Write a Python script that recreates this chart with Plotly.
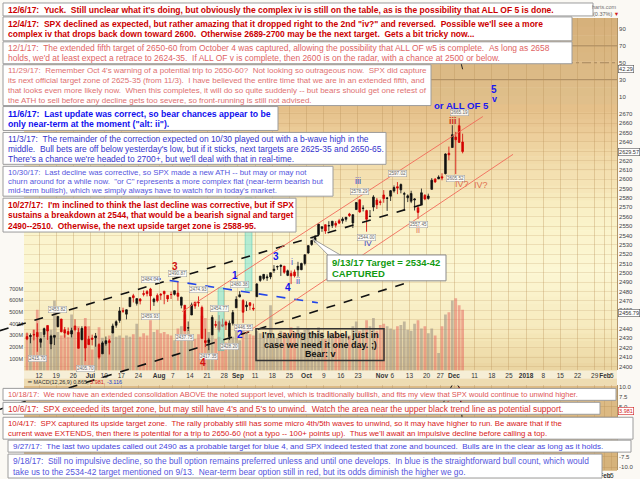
import plotly.graph_objects as go
import pandas as pd

W, H = 640, 479
FONT = "Liberation Sans, Arial, sans-serif"

# ---------------- data (SPX, Jun 6 - Dec 5 2017, read/estimated) ----------------
opens = [2431.9, 2432.0, 2434.3, 2436.4, 2425.9, 2434.1, 2443.8, 2424.1, 2431.2, 2442.5, 2450.7, 2439.3, 2437.4, 2434.7, 2443.3, 2436.3, 2428.7, 2442.4, 2429.2,
         2430.4, 2430.7, 2423.4, 2413.5, 2424.5, 2427.4, 2435.8, 2444.0, 2449.2, 2459.5, 2455.9, 2463.9, 2475.6, 2467.4, 2472.0, 2477.9, 2480.0, 2482.8, 2469.1, 2475.9,
         2477.1, 2480.4, 2476.0, 2476.9, 2477.1, 2478.4, 2465.4, 2465.4, 2441.0, 2455.0, 2468.7, 2468.6, 2463.0, 2427.6, 2425.5, 2433.8, 2444.9, 2447.9, 2444.7, 2447.4, 2431.9, 2446.1, 2462.7,
         2474.4, 2470.4, 2463.8, 2468.1, 2462.3, 2474.5, 2491.9, 2493.9, 2494.6, 2495.7, 2502.5, 2506.3, 2506.8, 2507.2, 2497.3, 2499.4, 2501.0, 2503.3, 2503.4, 2510.1,
         2521.2, 2530.3, 2533.5, 2540.9, 2547.4, 2551.4, 2550.0, 2550.6, 2552.9, 2555.7, 2555.6, 2557.2, 2562.9, 2553.4, 2567.6, 2578.1, 2568.7, 2566.5, 2560.1, 2570.3, 2577.8, 2576.0,
         2583.2, 2579.5, 2581.9, 2587.5, 2592.1, 2588.7, 2584.0, 2580.2, 2576.5, 2577.8, 2569.5, 2573.0, 2582.9, 2579.5, 2589.2, 2600.3, 2600.4, 2602.7, 2606.0, 2627.8, 2633.9,
         2645.1, 2657.2, 2639.8]
highs = [2436.2, 2435.3, 2439.3, 2446.2, 2430.4, 2441.5, 2443.8, 2433.9, 2433.2, 2453.8, 2450.7, 2442.2, 2441.6, 2441.4, 2450.4, 2441.0, 2443.0, 2442.7, 2432.7,
         2434.0, 2435.8, 2424.9, 2426.9, 2432.0, 2429.3, 2445.8, 2449.3, 2463.5, 2462.8, 2460.9, 2473.8, 2477.6, 2472.5, 2473.1, 2481.2, 2481.7, 2484.0, 2473.5, 2478.0,
         2478.5, 2480.4, 2476.0, 2480.0, 2481.0, 2490.9, 2474.4, 2465.4, 2448.1, 2468.2, 2468.9, 2474.9, 2465.0, 2440.3, 2430.6, 2454.8, 2448.9, 2454.8, 2451.0, 2449.1, 2449.2, 2460.3, 2475.0,
         2480.4, 2472.0, 2469.6, 2468.6, 2467.1, 2489.0, 2496.8, 2498.4, 2498.4, 2500.2, 2508.3, 2507.8, 2508.9, 2507.2, 2503.5, 2502.5, 2503.5, 2511.8, 2510.8, 2519.4,
         2529.2, 2535.1, 2540.5, 2552.5, 2549.4, 2551.8, 2555.2, 2555.2, 2555.3, 2557.7, 2559.5, 2559.7, 2564.1, 2562.4, 2575.4, 2578.3, 2572.2, 2567.4, 2567.1, 2583.0, 2580.0, 2578.3,
         2588.4, 2581.1, 2588.4, 2593.4, 2597.0, 2595.5, 2586.5, 2583.8, 2587.7, 2579.7, 2572.8, 2590.1, 2584.0, 2584.6, 2601.2, 2600.9, 2604.2, 2606.4, 2627.7, 2634.9, 2657.7,
         2650.6, 2665.2, 2648.7]
lows = [2428.1, 2424.8, 2427.9, 2415.7, 2420.0, 2431.3, 2428.3, 2418.5, 2422.9, 2441.8, 2436.6, 2430.7, 2433.3, 2431.1, 2437.0, 2419.4, 2428.0, 2405.7, 2422.9,
        2422.5, 2421.1, 2407.7, 2413.5, 2422.3, 2412.8, 2435.6, 2441.4, 2446.7, 2457.2, 2450.3, 2463.9, 2468.4, 2465.1, 2466.3, 2474.9, 2474.9, 2459.9, 2464.7, 2468.5,
        2471.1, 2466.5, 2468.9, 2472.1, 2475.9, 2470.3, 2462.1, 2437.8, 2437.9, 2455.0, 2461.6, 2463.9, 2430.0, 2420.7, 2417.4, 2433.7, 2441.4, 2436.4, 2441.9, 2439.0, 2428.2, 2443.8, 2462.7,
        2473.9, 2446.6, 2459.2, 2460.3, 2459.4, 2474.5, 2490.4, 2492.1, 2491.4, 2493.2, 2499.9, 2503.2, 2496.7, 2499.0, 2496.5, 2488.0, 2495.1, 2495.9, 2502.9, 2508.0,
        2520.4, 2528.9, 2531.8, 2540.0, 2543.8, 2541.6, 2544.9, 2548.0, 2548.3, 2552.1, 2552.6, 2554.7, 2559.7, 2547.9, 2567.6, 2564.3, 2565.6, 2544.0, 2559.8, 2565.9, 2568.2, 2572.2,
        2574.9, 2566.2, 2576.8, 2585.7, 2584.1, 2585.0, 2566.3, 2575.6, 2574.5, 2566.6, 2557.5, 2573.0, 2577.6, 2578.2, 2589.2, 2596.2, 2600.4, 2598.9, 2605.2, 2620.3, 2633.9,
        2605.5, 2639.0, 2627.7]
closes = [2429.3, 2433.1, 2433.8, 2431.8, 2429.4, 2440.4, 2437.9, 2432.5, 2433.2, 2453.5, 2437.0, 2435.6, 2434.5, 2438.3, 2439.1, 2419.4, 2440.7, 2419.7, 2423.4,
          2429.0, 2432.5, 2409.8, 2425.2, 2427.4, 2425.5, 2443.3, 2447.8, 2459.3, 2459.1, 2460.6, 2473.8, 2473.5, 2472.5, 2469.9, 2477.1, 2477.8, 2475.4, 2472.1, 2470.3,
          2476.4, 2477.6, 2472.2, 2476.8, 2480.9, 2474.9, 2474.0, 2438.2, 2441.3, 2465.8, 2464.6, 2468.1, 2430.0, 2425.6, 2428.4, 2452.5, 2444.0, 2439.0, 2443.1, 2444.2, 2446.3, 2457.6, 2471.7,
          2476.6, 2457.9, 2465.5, 2465.1, 2461.4, 2488.1, 2496.5, 2498.4, 2495.6, 2500.2, 2503.9, 2506.7, 2508.2, 2500.6, 2502.2, 2496.7, 2496.8, 2507.0, 2510.1, 2519.4,
          2529.1, 2534.6, 2537.7, 2552.1, 2549.3, 2544.7, 2550.6, 2555.2, 2550.9, 2553.2, 2557.6, 2559.4, 2561.3, 2562.1, 2575.2, 2565.0, 2569.1, 2557.2, 2560.4, 2581.1, 2572.8, 2575.3,
          2579.4, 2579.9, 2587.8, 2591.1, 2590.6, 2594.4, 2584.6, 2582.3, 2584.8, 2578.9, 2564.6, 2585.6, 2578.9, 2582.1, 2599.0, 2597.1, 2602.4, 2601.4, 2627.0, 2626.1, 2647.6,
          2642.2, 2639.4, 2629.57]
volumes_m = [320, 300, 350, 520, 330, 300, 380, 350, 600, 330, 300, 310, 290, 480, 330, 380, 340, 450, 380,
             180, 300, 370, 280, 260, 300, 340, 290, 300, 280, 300, 290, 310, 400, 290, 320, 300, 430, 330, 350,
             320, 330, 310, 300, 260, 360, 380, 480, 350, 300, 270, 310, 470, 450, 330, 310, 270, 290, 260, 240, 320, 290, 380,
             260, 390, 330, 310, 300, 340, 320, 300, 320, 560, 290, 280, 340, 330, 300, 370, 330, 380, 330, 350,
             360, 330, 320, 370, 330, 270, 320, 310, 330, 300, 300, 310, 300, 380, 420, 340, 360, 430, 380, 450, 340, 390,
             400, 380, 360, 350, 380, 390, 420, 350, 340, 400, 430, 360, 380, 320, 360, 300, 150, 380, 480, 500, 600,
             620, 560, 520]

rsi_dates = ["2017-12-01", "2017-12-04", "2017-12-05"]
rsi_vals = [61.0, 58.5, 42.29]
macd_dates = ["2017-11-27", "2017-11-28", "2017-11-29", "2017-11-30", "2017-12-01", "2017-12-04", "2017-12-05"]
macd_vals = [5.0, 7.2, 8.8, 10.4, 10.9, 9.8, 0.865]
signal_vals = [4.6, 5.4, 6.5, 7.8, 9.0, 9.7, 3.981]

# market holidays inside the data period (the chart's future area keeps every weekday)
holidays = ["2017-07-04", "2017-09-04", "2017-11-23"]
tick_dates = ["2017-06-12", "2017-06-19", "2017-06-26", "2017-07-03", "2017-07-10", "2017-07-17", "2017-07-24",
              "2017-08-01", "2017-08-07", "2017-08-14", "2017-08-21", "2017-08-28", "2017-09-01", "2017-09-11",
              "2017-09-18", "2017-09-25", "2017-10-02", "2017-10-09", "2017-10-16", "2017-10-23", "2017-11-01",
              "2017-11-06", "2017-11-13", "2017-11-20", "2017-11-27", "2017-12-01", "2017-12-11", "2017-12-18",
              "2017-12-25", "2018-01-01", "2018-01-08", "2018-01-15", "2018-01-22", "2018-01-29", "2018-02-01",
              "2018-02-05"]
tick_labels = ["12", "19", "26", "<b>Jul</b>", "10", "17", "24", "<b>Aug</b>", "7", "14", "21", "28", "<b>Sep</b>", "11",
               "18", "25", "<b>Oct</b>", "9", "16", "23", "<b>Nov</b>", "6", "13", "20", "27", "<b>Dec</b>", "11", "18",
               "25", "<b>2018</b>", "8", "15", "22", "29", "<b>Feb</b>", "5"]
price_ticks = list(range(2400, 2680, 10))
price_hidden = [2450, 2630]            # covered by the value markers in the reference
vol_ticks = [100, 200, 300, 400, 500, 600, 700]
rsi_ticks = [10, 30, 50, 70, 90]
macd_ticks = [-10, -7.5, -5, -2.5, 0, 2.5, 5, 7.5, 10]
macd_hidden = [-5, -2.5, 0, 2.5]       # covered by the note boxes in the reference

# labelled swing highs/lows: (date, value, vertical offset px)
swing_labels = [("2017-06-09", 2415.70, -7), ("2017-06-19", 2453.82, 7), ("2017-06-29", 2405.70, -7),
                ("2017-07-27", 2484.04, 8), ("2017-07-27", 2459.93, -6), ("2017-08-08", 2490.87, 8),
                ("2017-08-10", 2437.75, -6), ("2017-08-16", 2474.93, 7), ("2017-08-21", 2417.35, -6),
                ("2017-08-24", 2454.77, 7), ("2017-08-29", 2428.20, -6), ("2017-09-01", 2480.38, 7),
                ("2017-09-05", 2446.55, -5), ("2017-10-23", 2578.29, 8), ("2017-10-25", 2544.00, -6),
                ("2017-11-07", 2597.02, 9), ("2017-11-15", 2557.45, -5), ("2017-12-01", 2605.52, -4),
                ("2017-12-04", 2665.19, 6)]

# analyst trend lines in (trading-day index, price)
trend_lines = [(-11.4, 2438.3, 113.1, 2574.5, "#111111", 1.6, "dash"),
               (-11.4, 2354.3, 108.2, 2490.4, "#111111", 1.6, "dash"),
               (32.9, 2494.7, 81.3, 2468.1, "#2244e8", 1.6, "dash"),
               (41.7, 2458.5, 129.4, 2667.0, "#f26a5a", 0.9, "solid"),
               (60.1, 2435.1, 138.2, 2626.6, "#f26a5a", 0.9, "solid")]
cyan_bands = [(52.2, 53.9, 2417.0, 2484.0), (60.1, 62.1, 2481.0, 2580.0)]

# ---------------- calendar ----------------
cal = [d.strftime("%Y-%m-%d") for d in pd.bdate_range("2017-06-06", "2018-02-09")]
cal = [d for d in cal if d not in holidays]
origin = cal.index("2017-06-12")
day_pos = {d: i - origin for i, d in enumerate(cal)}
n = min(len(opens), len(highs), len(lows), len(closes), len(volumes_m))
xs = [i - origin + 0.5 for i in range(n)]          # centre of each trading session
tick_x = [day_pos[d] for d in tick_dates]           # session starts

# ---------------- geometry ----------------
X_L, X_R = 24, 617
X0, DX = 39, 3.43
xr = [(X_L - X0) / DX, (X_R - X0) / DX]
P_TOP, P_BOT, P2400, PK = 103, 370, 366, 0.94
pr = [2400 - (P_BOT - P2400) / PK, 2400 + (P2400 - P_TOP) / PK]
VK = 0.117
vr = [0, (P_BOT - P_TOP) / VK]
R_TOP, R_BOT = 16, 103
rr = [(103.5 - R_BOT) / 0.85, (103.5 - R_TOP) / 0.85]
M_TOP, M_BOT = 385, 470
mr = [10 - (M_BOT - 386) / 4.05, 10 + (386 - M_TOP) / 4.05]


def dom(top, bot):
    return [1 - bot / H, 1 - top / H]


def px(x):
    return x / W


def py(y):
    return 1 - y / H


def dx2p(i):
    return (X0 + i * DX) / W


def dy2p(p):
    return 1 - (P2400 - (p - 2400) * PK) / H


fig = go.Figure()

vol_colors = ["rgba(150,138,125,0.55)" if closes[i] >= opens[i] else "rgba(228,95,90,0.5)" for i in range(n)]
fig.add_trace(go.Bar(x=xs, y=volumes_m[:n], marker=dict(color=vol_colors, line=dict(width=0)), width=0.8,
                     xaxis="x", yaxis="y", hoverinfo="skip"))
fig.add_trace(go.Candlestick(x=xs, open=opens[:n], high=highs[:n], low=lows[:n], close=closes[:n],
                             xaxis="x", yaxis="y2", whiskerwidth=0,
                             increasing=dict(line=dict(color="#111111", width=0.8), fillcolor="#111111"),
                             decreasing=dict(line=dict(color="#d40000", width=0.8), fillcolor="#d40000")))
fig.add_trace(go.Scatter(x=[day_pos[d] + 0.5 for d in rsi_dates], y=rsi_vals, xaxis="x2", yaxis="y3",
                         mode="lines", line=dict(color="#222222", width=1)))
fig.add_trace(go.Scatter(x=[day_pos[d] + 0.5 for d in macd_dates], y=macd_vals, xaxis="x3", yaxis="y4",
                         mode="lines", line=dict(color="#111111", width=1)))
fig.add_trace(go.Scatter(x=[day_pos[d] + 0.5 for d in macd_dates], y=signal_vals, xaxis="x3", yaxis="y4",
                         mode="lines", line=dict(color="#d02020", width=1)))

grid = "rgba(185,145,90,0.35)"
xcommon = dict(range=xr, domain=[px(X_L), px(X_R)], tickvals=tick_x, tickangle=0,
               showgrid=True, gridcolor=grid, gridwidth=0.7, zeroline=False, showline=False, ticks="",
               fixedrange=True, tickfont=dict(family=FONT, size=6.5, color="#333333"))
# bottom (MACD) axis: only the labels beyond the last note box are visible in the reference
bottom_text = [t if (X0 + v * DX) > 603 else "" for t, v in zip(tick_labels, tick_x)]
fig.update_layout(
    width=W, height=H, margin=dict(l=0, r=0, t=0, b=0), showlegend=False,
    paper_bgcolor="#fbf9f4", plot_bgcolor="rgba(0,0,0,0)", font=dict(family=FONT),
    xaxis=dict(anchor="y", rangeslider=dict(visible=False), ticktext=tick_labels, **xcommon),
    xaxis2=dict(anchor="y3", showticklabels=False, ticktext=tick_labels, **xcommon),
    xaxis3=dict(anchor="y4", showticklabels=True, ticktext=bottom_text, **xcommon),
    yaxis=dict(domain=dom(P_TOP, P_BOT), range=vr, side="left", anchor="x", tickvals=vol_ticks,
               ticktext=["%dM" % v for v in vol_ticks], showgrid=False, zeroline=False, ticks="",
               tickfont=dict(family=FONT, size=5.5, color="#444444"), fixedrange=True),
    yaxis2=dict(domain=dom(P_TOP, P_BOT), range=pr, side="right", anchor="x", overlaying="y",
                tickvals=price_ticks, ticktext=["" if v in price_hidden else str(v) for v in price_ticks],
                showgrid=True, gridcolor="rgba(185,145,90,0.22)", zeroline=False,
                ticks="", showline=True, linecolor="#b09468", linewidth=0.7,
                tickfont=dict(family=FONT, size=6, color="#444444"), fixedrange=True),
    yaxis3=dict(domain=dom(R_TOP, R_BOT), range=rr, side="right", anchor="x2", tickvals=rsi_ticks,
                showgrid=False, zeroline=False, ticks="", showline=True, linecolor="#b09468", linewidth=0.7,
                tickfont=dict(family=FONT, size=6, color="#444444"), fixedrange=True),
    yaxis4=dict(domain=dom(M_TOP, M_BOT), range=mr, side="right", anchor="x3", tickvals=macd_ticks,
                ticktext=["" if v in macd_hidden else "%.1f" % v for v in macd_ticks], showgrid=True,
                gridcolor=grid, zeroline=False, ticks="", showline=True, linecolor="#b09468", linewidth=0.7,
                tickfont=dict(family=FONT, size=6, color="#444444"), fixedrange=True),
)

shapes = []
ann = []


def lerp_color(stops, y):
    for (y0, c0), (y1, c1) in zip(stops, stops[1:]):
        if y0 <= y <= y1:
            t = (y - y0) / (y1 - y0) if y1 > y0 else 0
            return "rgb(%d,%d,%d)" % tuple(round(a + (b - a) * t) for a, b in zip(c0, c1))
    return "rgb(%d,%d,%d)" % stops[-1][1]


def gradient(top, bot, stops, nb=30):
    h = (bot - top) / nb
    for k in range(nb):
        y0 = top + k * h
        shapes.append(dict(type="rect", xref="paper", yref="paper", x0=px(X_L), x1=px(X_R), y0=py(y0 + h + 0.6),
                           y1=py(y0), fillcolor=lerp_color(stops, y0 + h / 2), line=dict(width=0), layer="below"))


gradient(R_TOP, R_BOT, [(R_TOP, (214, 176, 122)), (R_BOT, (224, 192, 140))], 10)
gradient(P_TOP, P_BOT, [(P_TOP, (228, 190, 136)), (150, (240, 214, 164)), (215, (250, 242, 200)),
                        (270, (252, 247, 212)), (330, (246, 233, 188)), (P_BOT, (234, 212, 160))], 36)
gradient(M_TOP, M_BOT, [(M_TOP, (222, 188, 134)), (M_BOT, (214, 178, 122))], 8)
shapes.append(dict(type="rect", xref="paper", yref="paper", x0=px(X_L), x1=px(X_R), y0=py(378), y1=py(P_BOT),
                   fillcolor="#f6eed6", line=dict(width=0), layer="below"))
shapes.append(dict(type="rect", xref="paper", yref="paper", x0=px(X_L), x1=px(X_R), y0=py(M_TOP), y1=py(378),
                   fillcolor="#eedcb2", line=dict(width=0), layer="below"))

for lvl, dash in [(70, "solid"), (50, "dashdot"), (30, "solid")]:
    shapes.append(dict(type="line", xref="x2 domain", yref="y3", x0=0, x1=1, y0=lvl, y1=lvl,
                       line=dict(color="#a0825a", width=0.9, dash=dash), layer="below"))

for a, b, lo, hi in cyan_bands:
    shapes.append(dict(type="rect", xref="paper", yref="paper", x0=dx2p(a), x1=dx2p(b), y0=dy2p(lo), y1=dy2p(hi),
                       fillcolor="rgba(110,228,214,0.5)", line=dict(color="rgba(70,190,180,0.8)", width=0.6),
                       layer="above"))
for a, pa, b, pb, col, wd, dash in trend_lines:
    shapes.append(dict(type="line", xref="paper", yref="paper", x0=dx2p(a), y0=dy2p(pa), x1=dx2p(b), y1=dy2p(pb),
                       line=dict(color=col, width=wd, dash=dash), layer="above"))
tx, ty = dx2p(day_pos["2017-10-03"] + 0.5), dy2p(2537.0)
shapes.append(dict(type="path", xref="paper", yref="paper",
                   path="M %f %f L %f %f L %f %f Z" % (tx, ty, px(329), py(255), px(342), py(255)),
                   fillcolor="white", line=dict(color="#8a8a8a", width=0.8), layer="above"))

# swing value labels
for d, v, sh in swing_labels:
    ann.append(dict(xref="x", yref="y2", x=day_pos[d] + 0.5, y=v, yshift=sh, text="%.2f" % v, showarrow=False,
                    font=dict(family=FONT, size=4.6, color="#666666"), bgcolor="rgba(255,255,255,0.85)",
                    bordercolor="#9a9a9a", borderwidth=0.5, borderpad=0.4))


def wave(text, x, y, color, size=10, bold=True):
    ann.append(dict(xref="paper", yref="paper", x=px(x), y=py(y), text=("<b>%s</b>" % text) if bold else text,
                    showarrow=False, xanchor="center", yanchor="middle",
                    font=dict(family=FONT, size=size, color=color)))


wave("3", 175, 266, "#d01010")
wave("4", 203, 362, "#d01010")
wave("1", 235, 275, "#1414ee")
wave("2", 240, 334, "#1414ee")
wave("3", 276, 256, "#1414ee")
wave("4", 288, 287, "#1414ee")
wave("i", 292, 261, "#4a4ad8", 9, False)
wave("ii", 298, 280, "#4a4ad8", 9, False)
wave("iii", 358, 180, "#3a3ac8", 9, False)
wave("IV", 368, 243, "#3a3ac8", 8, False)
wave("ii", 418, 229, "#e07060", 9, False)
wave("iii", 453, 119, "#d03020", 9, True)
wave("IV?", 462, 183, "#e07050", 9, False)
wave("IV?", 481, 184, "#e07050", 9, False)
wave("or ALL OF 5", 461, 104, "#1a1aee", 9.6)
wave("5", 494, 88, "#1a1aee", 10)
wave("v", 494, 97, "#1a1aee", 9)


def marker(yref, y, text, color="#333333", border="#555555"):
    ann.append(dict(xref="paper", yref=yref, x=px(X_R + 1), y=y, xanchor="left", yanchor="middle", text=text,
                    showarrow=False, font=dict(family=FONT, size=5.5, color=color), bgcolor="white",
                    bordercolor=border, borderwidth=0.6, borderpad=0.5))


marker("y2", closes[n - 1], "%.2f" % closes[n - 1])
marker("y2", 2456.79, "2456.79")
marker("y3", rsi_vals[-1], "%.2f" % rsi_vals[-1])
marker("y4", signal_vals[-1], "%.3f" % signal_vals[-1], "#d02020", "#d02020")

ann.append(dict(xref="paper", yref="paper", x=px(619), y=py(5), xanchor="right", yanchor="middle",
                text="harts.com", showarrow=False, font=dict(family=FONT, size=5.5, color="#777777")))
ann.append(dict(xref="paper", yref="paper", x=px(621), y=py(12), xanchor="right", yanchor="middle",
                text="(0.37%) <span style='color:#d02020'>▼</span>", showarrow=False,
                font=dict(family=FONT, size=5.5, color="#666666")))
ann.append(dict(xref="paper", yref="paper", x=px(X_L + 1), y=py(381.5), xanchor="left", yanchor="middle",
                text="<span style='color:#333'>━ MACD(12,26,9) 0.865,</span> <span style='color:#d02020'>3.981,</span>"
                     " <span style='color:#2040d0'>-3.116</span>",
                showarrow=False, font=dict(family=FONT, size=5.5, color="#333333")))


def box(x0, y0, x1, y1, lines, color, bold=False, size=8.0, bg="white", border="#9c9c9c", bw=1.0,
        center=False, spacing=None):
    shapes.append(dict(type="rect", xref="paper", yref="paper", x0=px(x0), x1=px(x1), y0=py(y1), y1=py(y0),
                       fillcolor=bg, line=dict(color=border, width=bw), layer="above"))
    k = len(lines)
    sp = spacing if spacing else min(10.6, (y1 - y0 - 2) / k)
    first = (y0 + y1) / 2 - (k - 1) / 2 * sp
    for j, l in enumerate(lines):
        t = l.replace("  ", " \u00a0")
        if bold:
            t = "<b>%s</b>" % t
        ann.append(dict(xref="paper", yref="paper", x=px((x0 + x1) / 2 if center else x0 + 2.5),
                        y=py(first + j * sp + 0.3), xanchor="center" if center else "left", yanchor="middle",
                        text=t, showarrow=False, font=dict(family=FONT, size=size, color=color)))


box(3, 1, 593, 14, ["12/6/17:  Yuck.  Still unclear what it's doing, but obviously the complex iv is still on the table, as is the possibility that ALL OF 5 is done."], "#cc0000", True, 8.5)
box(3, 15, 572, 39, ['12/4/17:  SPX declined as expected, but rather amazing that it dropped right to the 2nd "iv?" and reversed.  Possible we\'ll see a more',
                     "complex iv that drops back down toward 2600.  Otherwise 2689-2700 may be the next target.  Gets a bit tricky now..."], "#cc0000", True, 8.5)
box(3, 40, 572, 62, ["12/1/17:  The extended fifth target of 2650-60 from October 4 was captured, allowing the possibility that ALL OF w5 is complete.  As long as 2658",
                     "holds, we'd at least expect a retrace to 2624-35.  If ALL OF v is complete, then 2600 is on the radar, with a chance at 2500 or below."], "#e06464", False, 8.45)
box(3, 63, 431, 104, ["11/29/17:  Remember Oct 4's warning of a potential trip to 2650-60?  Not looking so outrageous now.  SPX did capture",
                      "its next official target zone of 2625-35 (from 11/3).  I have believed the entire time that we are in an extended fifth, and",
                      "that looks even more likely now.  When this completes, it will do so quite suddenly -- but bears should get one retest of",
                      "the ATH to sell before any decline gets too severe, so front-running is still not advised."], "#e07070", False, 8.0)
box(3, 105, 278, 129, ["11/6/17:  Last update was correct, so bear chances appear to be",
                       'only near-term at the moment ("alt: ii").'], "#1010ee", True, 8.7)
box(3, 131, 386, 163, ["11/3/17:  The remainder of the correction expected on 10/30 played out with a b-wave high in the",
                       "middle.  Bull bets are off below yesterday's low, but if it sticks, next targets are 2625-35 and 2650-65.",
                       "There's a chance we're headed to 2700+, but we'll deal with that in real-time."], "#3333cc", False, 8.45)
box(3, 165, 333, 195, ["10/30/17:  Last decline was corrective, so SPX made a new ATH -- but may or may not",
                       'churn around for a while now.  "or C" represents a more complex flat (near-term bearish but',
                       "mid-term bullish), which we simply always have to watch for in today's market."], "#5555dd", False, 7.8)
box(3, 197, 296, 231, ["10/27/17:  I'm inclined to think the last decline was corrective, but if SPX",
                       "sustains a breakdown at 2544, that would be a bearish signal and target",
                       "2490--2510.  Otherwise, the next upside target zone is 2588-95."], "#cc0000", True, 8.4)
box(327, 254, 446, 280, ["9/13/17 Target = 2534-42", "CAPTURED"], "#129a12", True, 9.5, border="#8a8a8a", spacing=11)
box(256, 328, 384, 360, ["I'm saving this label, just in", "case we need it one day. ;)", "Bear: v"], "#111111", True, 9.0,
    bg="rgba(0,0,0,0)", border="#333333", bw=1.5, center=True, spacing=9.6)
box(3, 388, 616, 400, ["10/18/17:  We now have an extended consolidation ABOVE the noted support level, which is traditionally bullish, and fits my view that SPX would continue to unwind higher."], "#e05555", False, 7.5)
box(3, 402, 600, 414, ["10/6/17:  SPX exceeded its target zone, but may still have 4's and 5's to unwind.  Watch the area near the upper black trend line as potential support."], "#d83030", False, 8.45)
box(3, 417, 633, 439, ["10/4/17:  SPX captured its upside target zone.  The rally probably still has some micro 4th/5th waves to unwind, so it may have higher to run. Be aware that if the",
                       "current wave EXTENDS, then there is potential for a trip to 2650-60 (not a typo -- 100+ points up).  Thus we'll await an impulsive decline before calling a top."], "#d82020", False, 7.8)
box(8, 440, 631, 452, ["9/27/17:  The last two updates called out 2490 as a probable target for blue 4, and SPX indeed tested that zone and bounced.  Bulls are in the clear as long as it holds."], "#4444dd", False, 8.0)
box(8, 454, 602, 478, ["9/18/17:  Still no impulsive decline, so the bull option remains preferred unless and until one develops.  In blue is the straightforward bull count, which would",
                       "take us to the 2534-42 target mentioned on 9/13.  Near-term bear option still in red, but its odds diminish the higher we go."], "#5555dd", False, 8.4)

fig.update_layout(shapes=shapes, annotations=ann)
fig.write_html("out.html", config={"displayModeBar": False},
               post_script="document.body.style.margin='0';document.body.style.overflow='hidden';")
